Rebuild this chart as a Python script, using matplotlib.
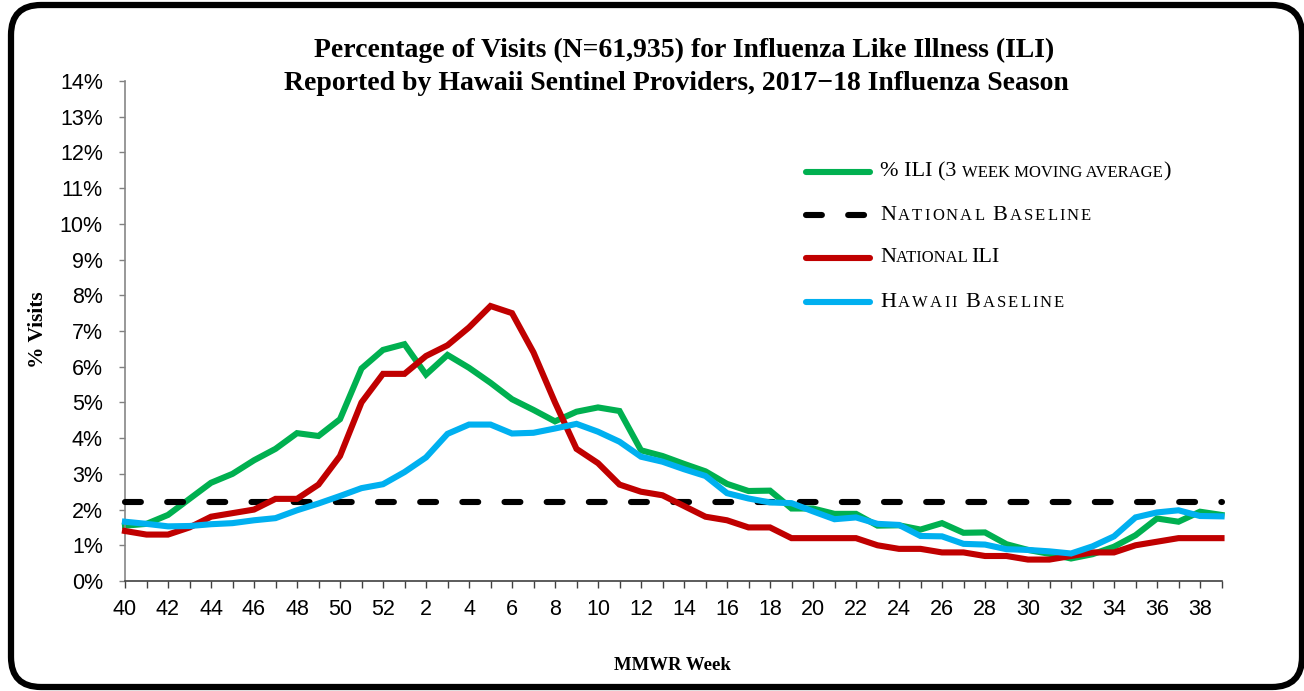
"""Hawaii ILI surveillance chart, 2017-18 season."""

import matplotlib

matplotlib.use("Agg")
import matplotlib.pyplot as plt
import numpy as np
from matplotlib.lines import Line2D
from matplotlib.offsetbox import AnchoredOffsetbox, HPacker, TextArea
from matplotlib.patches import FancyBboxPatch
from matplotlib.transforms import IdentityTransform

WEEKS = [40, 41, 42, 43, 44, 45, 46, 47, 48, 49, 50, 51, 52,
         1, 2, 3, 4, 5, 6, 7, 8, 9, 10, 11, 12, 13, 14, 15, 16, 17, 18, 19, 20,
         21, 22, 23, 24, 25, 26, 27, 28, 29, 30, 31, 32, 33, 34, 35, 36, 37, 38, 39]

ILI_3WK = [1.55, 1.60, 1.85, 2.30, 2.75, 3.00, 3.38, 3.70, 4.14, 4.06, 4.53, 5.95, 6.47,
           6.63, 5.78, 6.33, 5.97, 5.55, 5.09, 4.79, 4.47, 4.74, 4.86, 4.76, 3.66, 3.50,
           3.28, 3.07, 2.72, 2.52, 2.53, 2.03, 2.03, 1.88, 1.88, 1.55, 1.56, 1.44, 1.62,
           1.35, 1.36, 1.03, 0.87, 0.76, 0.63, 0.75, 0.96, 1.28, 1.75, 1.66, 1.94, 1.85]

NATIONAL_ILI = [1.4, 1.3, 1.3, 1.5, 1.8, 1.9, 2.0, 2.3, 2.3, 2.7, 3.5, 5.0, 5.8,
                5.8, 6.3, 6.6, 7.1, 7.7, 7.5, 6.4, 5.0, 3.7, 3.3, 2.7, 2.5, 2.4,
                2.1, 1.8, 1.7, 1.5, 1.5, 1.2, 1.2, 1.2, 1.2, 1.0, 0.9, 0.9, 0.8,
                0.8, 0.7, 0.7, 0.6, 0.6, 0.7, 0.8, 0.8, 1.0, 1.1, 1.2, 1.2, 1.2]

HAWAII_BASELINE = [1.66, 1.60, 1.53, 1.54, 1.59, 1.62, 1.70, 1.76, 1.98, 2.17, 2.38, 2.60, 2.71,
                   3.05, 3.46, 4.12, 4.38, 4.38, 4.13, 4.15, 4.27, 4.40, 4.18, 3.90, 3.48, 3.34,
                   3.13, 2.94, 2.46, 2.31, 2.20, 2.18, 1.95, 1.73, 1.78, 1.60, 1.57, 1.26, 1.25,
                   1.04, 1.02, 0.89, 0.87, 0.83, 0.77, 0.97, 1.25, 1.78, 1.92, 1.98, 1.82, 1.81]

NATIONAL_BASELINE = 2.2

GREEN = "#00B050"
RED = "#C00000"
BLUE = "#00B0F0"
SERIF = "Liberation Serif"
SANS = "Liberation Sans"
DASHES = (2.6, 4.3)

W, H = 1304, 691


def small_caps(runs, big, small, spacing=0.0):
    # runs: (text, full_size) pairs; letter spacing means one box per glyph
    kids = []
    for text, full in runs:
        size = big if full else small
        pieces = list(text) if spacing else [text]
        for piece in pieces:
            kids.append(TextArea(piece, textprops=dict(family=SERIF, fontsize=size, color="black")))
    return HPacker(children=kids, align="baseline", pad=0, sep=spacing)


fig = plt.figure(figsize=(W / 100, H / 100), dpi=100)
ax = fig.add_axes([125 / W, 1 - 581 / H, (1221.5 - 125) / W, (581 - 81) / H])

x = np.arange(len(WEEKS))
lw = 4.4
ax.plot(x, ILI_3WK, color=GREEN, lw=lw, solid_joinstyle="miter", zorder=2)
ax.axhline(NATIONAL_BASELINE, color="black", lw=lw, dashes=DASHES,
           dash_capstyle="round", zorder=3)
ax.plot(x, NATIONAL_ILI, color=RED, lw=lw, solid_joinstyle="miter", zorder=4)
ax.plot(x, HAWAII_BASELINE, color=BLUE, lw=lw, solid_joinstyle="miter", zorder=5)

ax.set_xlim(0, len(WEEKS) - 1)
ax.set_ylim(0, 14)
ax.set_xticks(x)
ax.set_xticklabels([str(w) if i % 2 == 0 else "" for i, w in enumerate(WEEKS)])
ax.set_yticks(np.arange(0, 15))
ax.set_yticklabels([f"{v}%" for v in range(15)])
for lab in ax.get_xticklabels() + ax.get_yticklabels():
    lab.set_fontfamily(SANS)
    lab.set_fontsize(15.5)
ax.tick_params(axis="x", length=5, width=1, color="#404040", pad=8, direction="out")
ax.tick_params(axis="y", length=4, width=1, color="#808080", pad=12, direction="out")
for side in ("top", "right"):
    ax.spines[side].set_visible(False)
ax.spines["left"].set_color("#868686")
ax.spines["left"].set_linewidth(1.2)
ax.spines["bottom"].set_color("#404040")
ax.spines["bottom"].set_linewidth(1.2)
for line in ax.lines:
    line.set_clip_on(False)

fig.text(38 / W, 1 - 330 / H, "% Visits", family=SERIF, fontweight="bold", fontsize=15.5,
         rotation=90, ha="center", va="center")
fig.text(672 / W, 1 - 665 / H, "MMWR Week", family=SERIF, fontweight="bold",
         fontsize=13.5, ha="center", va="center")

fig.text(684 / W, 1 - 50 / H, "Percentage of Visits (N=61,935) for Influenza Like Illness (ILI)",
         family=SERIF, fontweight="bold", fontsize=20, ha="center", va="center")
fig.text(676 / W, 1 - 84 / H, "Reported by Hawaii Sentinel Providers, 2017\u221218 Influenza Season",
         family=SERIF, fontweight="bold", fontsize=20, ha="center", va="center")

# legend drawn by hand so the labels can use small caps
legend_rows = [
    (GREEN, None, [("% ILI (3 ", True), ("WEEK MOVING AVERAGE", False), (")", True)], 0.0),
    ("black", DASHES, [("N", True), ("ATIONAL ", False), ("B", True), ("ASELINE", False)], 1.5),
    (RED, None, [("N", True), ("ATIONAL ", False), ("ILI", True)], 0.0),
    (BLUE, None, [("H", True), ("AWAII ", False), ("B", True), ("ASELINE", False)], 1.5),
]
legend_y = [172, 215, 258, 302]
for (color, dashes, runs, spacing), yp in zip(legend_rows, legend_y):
    yf = 1 - yp / H
    kw = dict(color=color, lw=lw, solid_capstyle="round", dash_capstyle="round")
    if dashes:
        kw["dashes"] = dashes
    fig.add_artist(Line2D([806 / W, 870 / W], [yf, yf], transform=fig.transFigure, **kw))
    box = small_caps(runs, 16, 12, spacing)
    anchored = AnchoredOffsetbox(loc="center left", child=box, pad=0, borderpad=0, frameon=False,
                                 bbox_to_anchor=(880 / W, yf), bbox_transform=fig.transFigure)
    fig.add_artist(anchored)

frame = FancyBboxPatch((11, 4), 1291, 682, boxstyle="round,pad=0,rounding_size=30",
                       transform=IdentityTransform(), facecolor="none", edgecolor="black",
                       lw=4.5)
fig.add_artist(frame)

fig.savefig("out.png", dpi=100)
